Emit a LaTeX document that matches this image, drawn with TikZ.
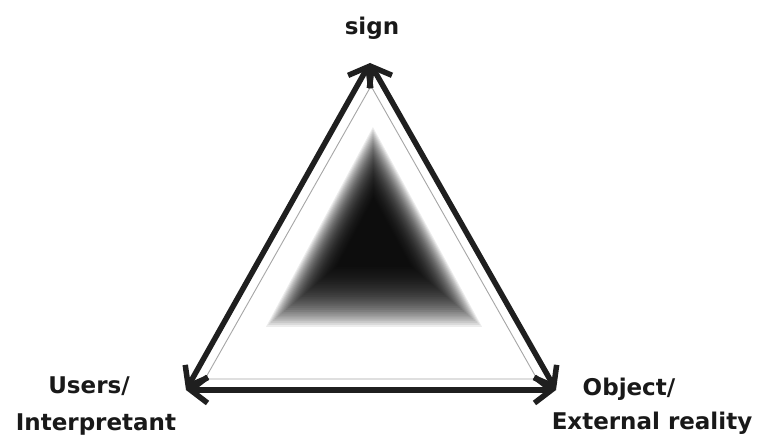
\documentclass[tikz,border=0pt]{standalone}
\usepackage{fontspec}
\setmainfont{DejaVu Sans}
\usetikzlibrary{arrows.meta}
\begin{document}
\begin{tikzpicture}[x=1pt,y=-1pt,
  edge/.style={line width=5.5pt, draw=black!88,
    {Straight Barb[length=17pt,width=26pt]}-{Straight Barb[length=17pt,width=26pt]}},
  thin/.style={line width=0.9pt, draw=black!35},
  blot/.style={fill=black, opacity=0.075},
  lbl/.style={font=\fontsize{23}{28}\selectfont\bfseries, inner sep=0pt, anchor=base, text=black!90}]
\useasboundingbox (0,0) rectangle (759,438);
\fill[white] (0,0) rectangle (759,438);
% blurred inner triangle
\foreach \i in {0,...,32}{
  \pgfmathsetmacro\s{1.08-0.022*\i}
  \begin{scope}[shift={(374,235)}, scale=\s]
    \fill[blot] (-1,-100) -- (-100,85) -- (100,85) -- cycle;
  \end{scope}
}
% vertices
\coordinate (T) at (370,63);
\coordinate (L) at (186,390);
\coordinate (R) at (556,390);
\coordinate (t) at (371,86);
\coordinate (l) at (205,379);
\coordinate (r) at (537,379);
% thin inner triangle
\draw[thin] (t) -- (l) -- (r) -- cycle;
% double-headed arrows
\draw[edge] (T) -- (L);
\draw[edge] (T) -- (R);
\draw[edge] (L) -- (R);
% labels
\node[lbl] (sign) at (372,35) {sign};
\node[lbl] (users) at (89,393) {Users/};
\node[lbl] (interp) at (96,430) {Interpretant};
\node[lbl] (object) at (629,395) {Object/};
\node[lbl] (ext) at (652,429) {External reality};
\end{tikzpicture}
\end{document}
